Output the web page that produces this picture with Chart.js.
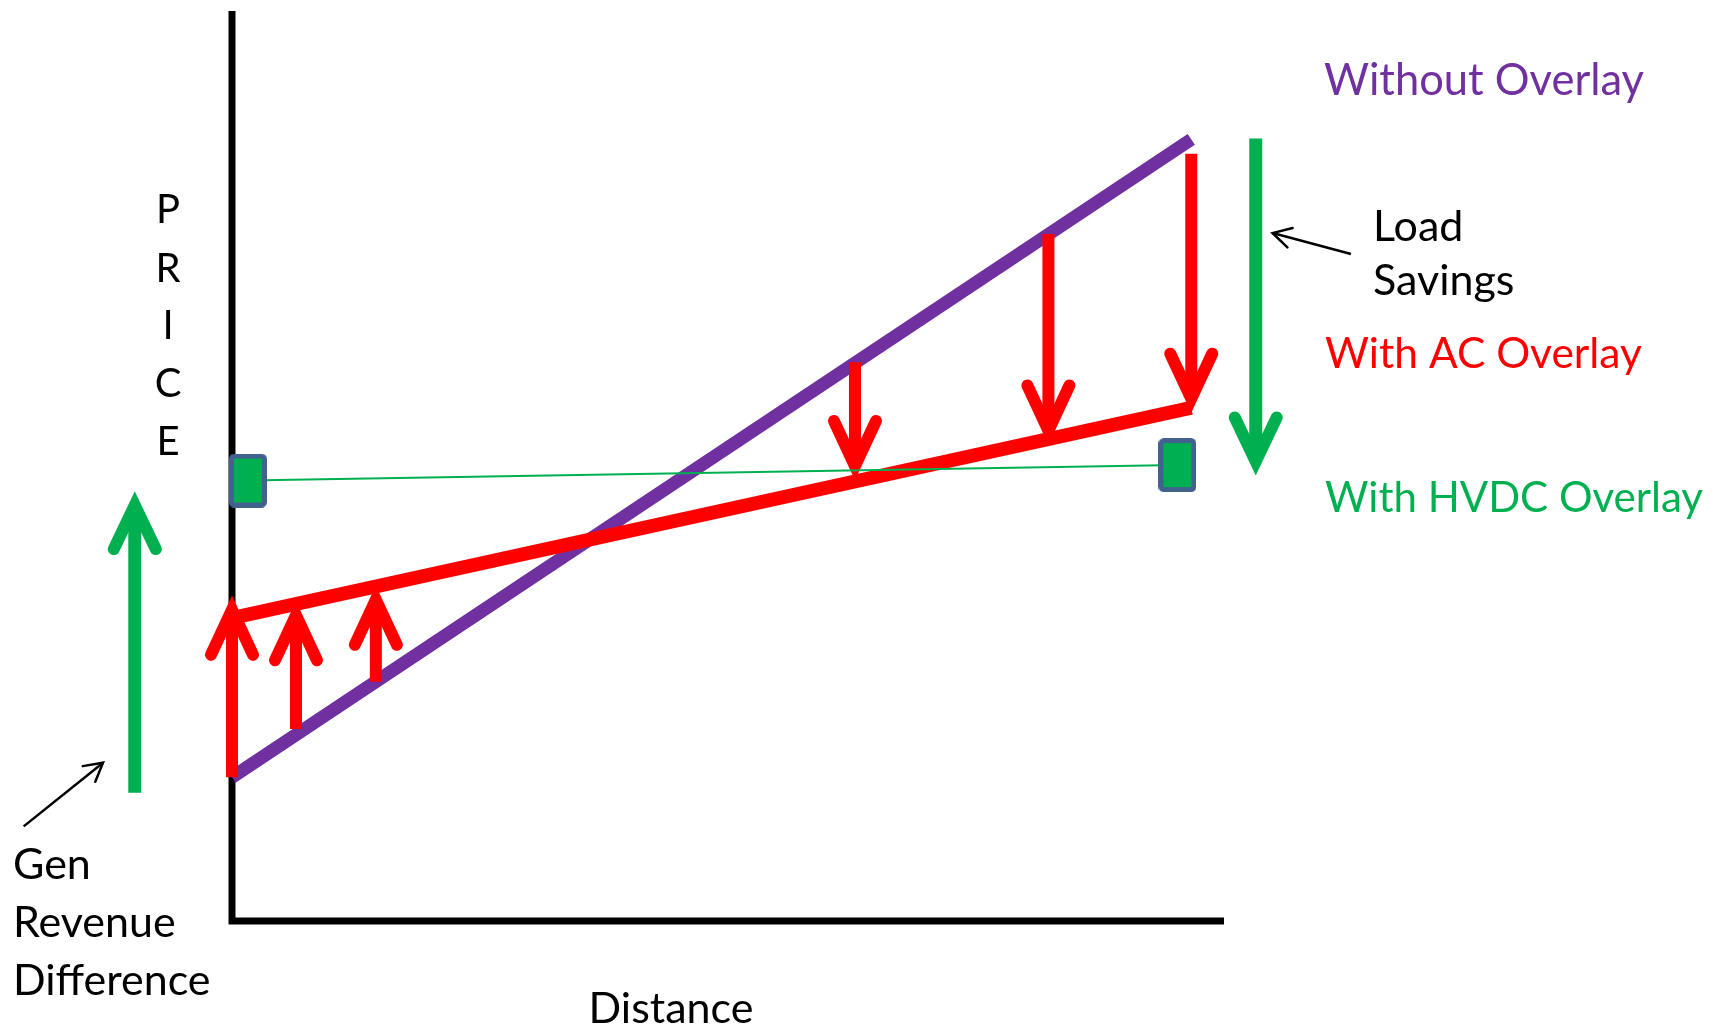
<!DOCTYPE html>
<html>
<head>
<meta charset="utf-8">
<script src="https://cdn.jsdelivr.net/npm/chart.js@4.4.1/dist/chart.umd.min.js"></script>
<style>
    html, body { margin: 0; padding: 0; background: #ffffff; }
    canvas { display: block; }
</style>
</head>
<body>
<canvas id="priceChart" width="1721" height="1030"></canvas>
<script>
// distance runs 0..100 along the x axis, price 0..100 up the y axis
const axisCorner = [[0, 100], [0, 0], [100, 0]];

const withoutOverlay = [[0, 15.8], [96.7, 85.9]];
const withAcOverlay = [[0, 33.3], [96.7, 56.4]];
const withHvdcOverlay = [[1.6, 48.4], [95.3, 50.1]];

// red arrows: price change at a point when the AC overlay is added
const acArrowX = [0, 6.45, 14.5, 62.8, 82.3, 96.7];
const acArrowFrom = [15.8, 21.1, 26.3, 61.4, 75.5, 84.3];
const acArrowTo = [34.2, 33.6, 35.3, 50.0, 53.9, 57.4];

// green arrows: gen revenue difference and load savings for HVDC
const hvdcArrowX = [-9.8, 103.2];
const hvdcArrowFrom = [14.1, 86.0];
const hvdcArrowTo = [45.7, 50.5];

// thin pointers from the side notes
const loadPointer = [[112.8, 73.3], [104.9, 75.6]];
const genPointer = [[-21.0, 10.4], [-13.0, 17.4]];

const seriesNames = ['Without Overlay', 'With AC Overlay', 'With HVDC Overlay'];
const notes = ['Load', 'Savings', 'Gen', 'Revenue', 'Difference'];
const xTitle = 'Distance';
const yTitle = ['P', 'R', 'I', 'C', 'E'];

const PURPLE = '#7030A0';
const RED = '#FF0000';
const GREEN = '#00B050';

const pts = arr => arr.map(p => ({ x: p[0], y: p[1] }));

function lineSet(data, color, width, order, extra) {
    return Object.assign({
        type: 'scatter',
        data: data,
        showLine: true,
        borderColor: color,
        backgroundColor: color,
        borderWidth: width,
        pointRadius: 0,
        clip: false,
        order: order,
    }, extra || {});
}

// the green boxes at each end of the HVDC line
function boxStyle() {
    const c = document.createElement('canvas');
    c.width = 38;
    c.height = 54;
    const g = c.getContext('2d');
    g.fillStyle = GREEN;
    g.strokeStyle = '#41618F';
    g.lineWidth = 5;
    g.beginPath();
    g.roundRect(2.5, 2.5, 33, 49, 3);
    g.fill();
    g.stroke();
    return c;
}

const datasets = [];
datasets.push(lineSet(pts(axisCorner), '#000000', 7, 9, { borderJoinStyle: 'miter' }));
datasets.push(lineSet(pts(withoutOverlay), PURPLE, 13, 8));
acArrowX.forEach((x, i) => {
    datasets.push(lineSet([{ x: x, y: acArrowFrom[i] }, { x: x, y: acArrowTo[i] }], RED, 12, 6,
        { arrowHead: { len: 45, half: 21, width: 12 } }));
});
datasets.push(lineSet(pts(withAcOverlay), RED, 14, 5));
datasets.push(lineSet(pts(withHvdcOverlay), GREEN, 2, 4));
hvdcArrowX.forEach((x, i) => {
    datasets.push(lineSet([{ x: x, y: hvdcArrowFrom[i] }, { x: x, y: hvdcArrowTo[i] }], GREEN, 13, 3,
        { arrowHead: { len: 44, half: 21, width: 12 } }));
});
datasets.push(lineSet(pts(loadPointer), '#000000', 2.5, 2, { arrowHead: { len: 18, half: 10, width: 2.5 } }));
datasets.push(lineSet(pts(genPointer), '#000000', 2.5, 2, { arrowHead: { len: 18, half: 10, width: 2.5 } }));
datasets.push({
    type: 'scatter',
    data: pts([withHvdcOverlay[0], withHvdcOverlay[1]]),
    pointStyle: boxStyle(),
    pointRadius: 20,
    clip: false,
    order: 1,
});

const arrowHeads = {
    id: 'arrowHeads',
    afterDatasetDraw(chart, args) {
        const ds = chart.data.datasets[args.index];
        if (!ds.arrowHead) return;
        const els = args.meta.data;
        const a = els[els.length - 2], b = els[els.length - 1];
        const ang = Math.atan2(b.y - a.y, b.x - a.x);
        const h = ds.arrowHead;
        const bx = b.x - h.len * Math.cos(ang), by = b.y - h.len * Math.sin(ang);
        const nx = -Math.sin(ang) * h.half, ny = Math.cos(ang) * h.half;
        const ctx = chart.ctx;
        ctx.save();
        ctx.strokeStyle = ds.borderColor;
        ctx.lineWidth = h.width;
        ctx.lineCap = 'round';
        ctx.lineJoin = 'miter';
        ctx.beginPath();
        ctx.moveTo(bx + nx, by + ny);
        ctx.lineTo(b.x, b.y);
        ctx.lineTo(bx - nx, by - ny);
        ctx.stroke();
        ctx.restore();
    }
};

const textLabels = {
    id: 'textLabels',
    afterDraw(chart) {
        const ctx = chart.ctx;
        ctx.save();
        ctx.textBaseline = 'alphabetic';
        const put = (txt, x, y, color, size, align) => {
            ctx.font = size + 'px Lato';
            ctx.fillStyle = color;
            ctx.textAlign = align || 'left';
            ctx.fillText(txt, x, y);
        };
        put(seriesNames[0], 1324, 95, PURPLE, 43.5);
        put(seriesNames[1], 1325, 368, RED, 42.5);
        put(seriesNames[2], 1325, 512, GREEN, 42);
        put(notes[0], 1373, 241, '#000', 43);
        put(notes[1], 1373, 295, '#000', 43);
        put(notes[2], 13, 879, '#000', 43);
        put(notes[3], 13, 937, '#000', 43);
        put(notes[4], 13, 995, '#000', 43);
        put(xTitle, 671, 1023, '#000', 43, 'center');
        const yBase = [223, 282, 339, 397, 455];
        yTitle.forEach((ch, i) => put(ch, 168, yBase[i], '#000', 40, 'center'));
        ctx.restore();
    }
};

new Chart(document.getElementById('priceChart').getContext('2d'), {
    data: { datasets: datasets },
    options: {
        responsive: false,
        animation: false,
        layout: { autoPadding: false, padding: { left: 232, right: 497, top: 11, bottom: 109 } },
        scales: {
            x: { type: 'linear', min: 0, max: 100, display: false },
            y: { type: 'linear', min: 0, max: 100, display: false },
        },
        plugins: {
            legend: { display: false },
            tooltip: { enabled: false },
        },
        events: [],
    },
    plugins: [arrowHeads, textLabels],
});
</script>
</body>
</html>
